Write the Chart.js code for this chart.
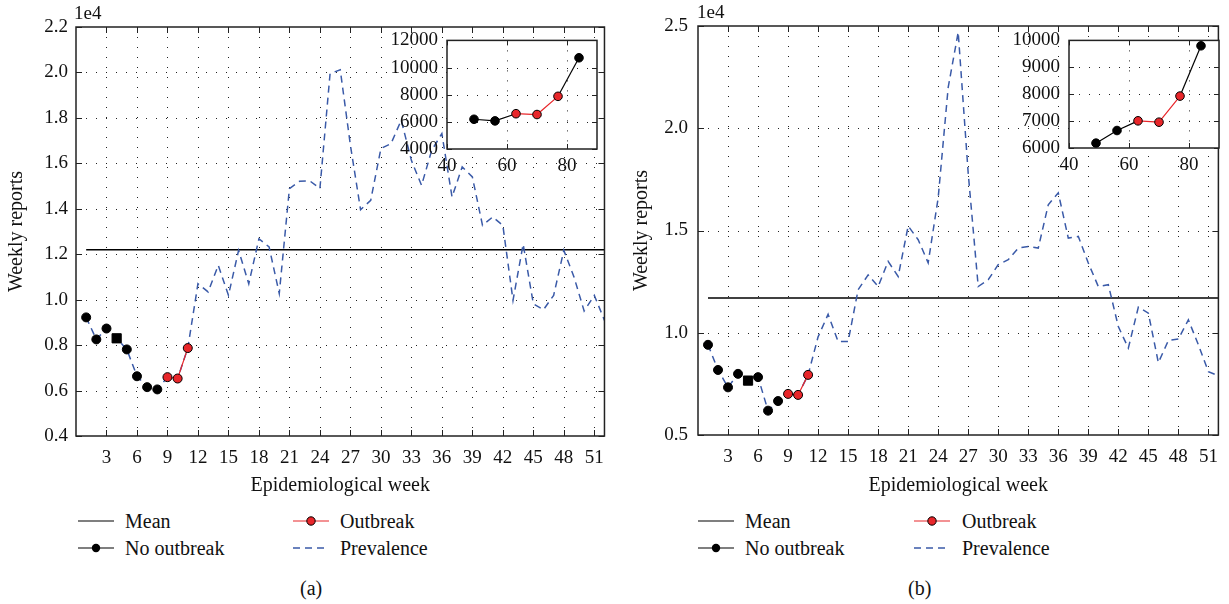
<!DOCTYPE html>
<html>
<head>
<meta charset="utf-8">
<script src="https://cdn.jsdelivr.net/npm/chart.js@4.4.1/dist/chart.umd.min.js"></script>
<style>
  body { margin: 0; background: #fff; }
  #page { position: relative; width: 1229px; height: 604px; overflow: hidden;
          font-family: "Liberation Serif", "DejaVu Serif", serif; color: #111; }
  canvas { position: absolute; }
  .txt { position: absolute; font-size: 20px; line-height: 20px; white-space: nowrap; }
  .key { position: absolute; width: 36px; height: 12px; }
</style>
</head>
<body>
<div id="page">
  <canvas id="mainA" width="615" height="500" style="left:0;top:0"></canvas>
  <canvas id="mainB" width="614" height="500" style="left:615px;top:0"></canvas>
  <canvas id="insetA" width="240" height="160" style="left:375px;top:20px"></canvas>
  <canvas id="insetB" width="234" height="160" style="left:995px;top:20px"></canvas>

  <div class="txt" style="left:74px;top:3px;font-size:19px">1e4</div>
  <div class="txt" style="left:697px;top:2px;font-size:19px">1e4</div>

  <!-- legend (a) -->
  <svg class="key" style="left:78px;top:515px"><line x1="0" y1="6" x2="36" y2="6" stroke="#000" stroke-width="1.2"/></svg>
  <div class="txt" style="left:125px;top:511px">Mean</div>
  <svg class="key" style="left:78px;top:542px"><line x1="0" y1="6" x2="36" y2="6" stroke="#000" stroke-width="1.2"/><circle cx="18" cy="6" r="4.2" fill="#000"/></svg>
  <div class="txt" style="left:125px;top:538px">No outbreak</div>
  <svg class="key" style="left:293px;top:515px"><line x1="0" y1="6" x2="36" y2="6" stroke="#e8262a" stroke-width="1.2"/><circle cx="18" cy="6" r="4.2" fill="#e8262a" stroke="#000" stroke-width="1"/></svg>
  <div class="txt" style="left:340px;top:511px">Outbreak</div>
  <svg class="key" style="left:293px;top:542px"><line x1="0" y1="6" x2="36" y2="6" stroke="#3a5aa8" stroke-width="1.4" stroke-dasharray="7,5"/></svg>
  <div class="txt" style="left:340px;top:538px">Prevalence</div>
  <div class="txt" style="left:300px;top:578px">(a)</div>

  <!-- legend (b) -->
  <svg class="key" style="left:698px;top:515px"><line x1="0" y1="6" x2="36" y2="6" stroke="#000" stroke-width="1.2"/></svg>
  <div class="txt" style="left:745px;top:511px">Mean</div>
  <svg class="key" style="left:698px;top:542px"><line x1="0" y1="6" x2="36" y2="6" stroke="#000" stroke-width="1.2"/><circle cx="18" cy="6" r="4.2" fill="#000"/></svg>
  <div class="txt" style="left:745px;top:538px">No outbreak</div>
  <svg class="key" style="left:914px;top:515px"><line x1="0" y1="6" x2="36" y2="6" stroke="#e8262a" stroke-width="1.2"/><circle cx="18" cy="6" r="4.2" fill="#e8262a" stroke="#000" stroke-width="1"/></svg>
  <div class="txt" style="left:962px;top:511px">Outbreak</div>
  <svg class="key" style="left:914px;top:542px"><line x1="0" y1="6" x2="36" y2="6" stroke="#3a5aa8" stroke-width="1.4" stroke-dasharray="7,5"/></svg>
  <div class="txt" style="left:962px;top:538px">Prevalence</div>
  <div class="txt" style="left:908px;top:578px">(b)</div>
</div>

<script>
/* weeks and tick labels */
let weeks = [1,2,3,4,5,6,7,8,9,10,11,12,13,14,15,16,17,18,19,20,21,22,23,24,25,26,
             27,28,29,30,31,32,33,34,35,36,37,38,39,40,41,42,43,44,45,46,47,48,49,50,51,52]
let weekTicks = [3,6,9,12,15,18,21,24,27,30,33,36,39,42,45,48,51]

/* weekly reports, panel (a) */
let prevalenceA = [9220, 8250, 8730, 8300, 7810, 6630, 6150, 6050, 6590, 6530, 7870, 10700, 10340,
                   11510, 10190, 12170, 10700, 12680, 12320, 10270, 14890, 15210, 15230, 14890, 19950, 20120,
                   16800, 13960, 14370, 16650, 16870, 17900, 16130, 15030, 16570, 17310, 14520, 15840, 15400,
                   13270, 13640, 13270, 9970, 12440, 9820, 9560, 10190, 12170, 11000, 9500, 10190, 9090]
let meanA = 12200

/* weekly reports, panel (b) */
let prevalenceB = [9410, 8180, 7330, 7990, 7660, 7830, 6190, 6660, 7010, 6960, 7940, 9800, 10900,
                   9570, 9570, 12100, 12830, 12260, 13490, 12750, 15220, 14550, 13420, 16600, 22000, 24700,
                   17800, 12260, 12590, 13330, 13570, 14140, 14220, 14140, 16260, 16840, 14630, 14710, 13410,
                   12260, 12350, 10300, 9250, 11250, 10960, 8540, 9620, 9690, 10630, 9410, 8100, 7890]
let meanB = 11700

let noOutbreakWeeks = [1,2,3,4,5,6,7,8]
let outbreakWeeks = [9,10,11]
let squareWeekA = 4
let squareWeekB = 5

/* insets (day of year) */
let insetDays = [49, 56, 63, 70, 77, 84]
let insetTicks = [40, 60, 80]
let insetA = [6190, 6070, 6600, 6540, 7880, 10720]
let insetB = [6180, 6650, 7010, 6960, 7930, 9800]
let insetOutbreak = [false, false, true, true, true, false]

let BLUE = '#3a5aa8'
let RED = '#e8262a'
let FONT = '"Liberation Serif", "DejaVu Serif", serif'

Chart.defaults.font.family = FONT
Chart.defaults.color = '#111'

// dotted grid, box around the plot area and inward tick marks (matplotlib look)
let framePlugin = {
    id: 'frame',
    beforeDraw(chart, args, opts) {
        if (opts.fill) {
            let a = chart.chartArea
            chart.ctx.save()
            chart.ctx.fillStyle = '#fff'
            chart.ctx.fillRect(a.left, a.top, a.width, a.height)
            chart.ctx.restore()
        }
    },
    beforeDatasetsDraw(chart) {
        let ctx = chart.ctx
        let a = chart.chartArea
        ctx.save()
        ctx.strokeStyle = '#222'
        ctx.lineWidth = 1
        ctx.setLineDash([1, 9])
        ctx.beginPath()
        chart.scales.x.ticks.forEach(t => {
            let px = Math.round(chart.scales.x.getPixelForValue(t.value)) + 0.5
            if (px <= a.left + 1 || px >= a.right - 1) return
            ctx.moveTo(px, a.top); ctx.lineTo(px, a.bottom)
        })
        chart.scales.y.ticks.forEach(t => {
            let py = Math.round(chart.scales.y.getPixelForValue(t.value)) + 0.5
            if (py <= a.top + 1 || py >= a.bottom - 1) return
            ctx.moveTo(a.left, py); ctx.lineTo(a.right, py)
        })
        ctx.stroke()
        ctx.restore()
    },
    afterDraw(chart, args, opts) {
        let ctx = chart.ctx
        let a = chart.chartArea
        let len = opts.tick || 6
        ctx.save()
        ctx.strokeStyle = '#222'
        ctx.lineWidth = 1
        ctx.beginPath()
        chart.scales.x.ticks.forEach(t => {
            let px = Math.round(chart.scales.x.getPixelForValue(t.value)) + 0.5
            ctx.moveTo(px, a.bottom); ctx.lineTo(px, a.bottom - len)
            ctx.moveTo(px, a.top); ctx.lineTo(px, a.top + len)
        })
        chart.scales.y.ticks.forEach(t => {
            let py = Math.round(chart.scales.y.getPixelForValue(t.value)) + 0.5
            ctx.moveTo(a.left, py); ctx.lineTo(a.left + len, py)
            ctx.moveTo(a.right, py); ctx.lineTo(a.right - len, py)
        })
        ctx.stroke()
        ctx.lineWidth = 1.5
        ctx.strokeRect(a.left, a.top, a.width, a.height)
        ctx.restore()
    }
}

function pick(values, list) {
    return list.map(w => ({ x: w, y: values[weeks.indexOf(w)] }))
}

function makeMain(canvasId, prevalence, mean, yMin, yMax, yStep, squareWeek, geo) {
    let ctx = document.querySelector(canvasId).getContext('2d')
    return new Chart(ctx, {
        type: 'line',
        data: {
            datasets: [
                {
                    label: 'No outbreak',
                    data: pick(prevalence, noOutbreakWeeks),
                    showLine: false,
                    pointStyle: noOutbreakWeeks.map(w => w == squareWeek ? 'rect' : 'circle'),
                    pointRadius: noOutbreakWeeks.map(w => w == squareWeek ? 6.5 : 4.5),
                    pointBackgroundColor: '#000',
                    pointBorderColor: '#000',
                    pointBorderWidth: 1,
                    order: 0
                },
                {
                    label: 'Outbreak',
                    data: pick(prevalence, outbreakWeeks),
                    borderColor: RED,
                    borderWidth: 1.2,
                    pointRadius: 4.5,
                    pointBackgroundColor: RED,
                    pointBorderColor: '#000',
                    pointBorderWidth: 1,
                    order: 1
                },
                {
                    label: 'Prevalence',
                    data: pick(prevalence, weeks),
                    borderColor: BLUE,
                    borderWidth: 1.5,
                    borderDash: [7, 5],
                    pointRadius: 0,
                    order: 2
                },
                {
                    label: 'Mean',
                    data: [{ x: weeks[0], y: mean }, { x: weeks[weeks.length - 1], y: mean }],
                    borderColor: '#000',
                    borderWidth: 1.5,
                    pointRadius: 0,
                    order: 3
                }
            ]
        },
        options: {
            responsive: false,
            animation: false,
            events: [],
            layout: { padding: { top: geo.top, right: geo.right, left: 0, bottom: 0 } },
            plugins: {
                legend: { display: false },
                tooltip: { enabled: false },
                frame: { tick: 6 }
            },
            scales: {
                x: {
                    type: 'linear',
                    min: 0,
                    max: 52,
                    afterBuildTicks: s => { s.ticks = weekTicks.map(v => ({ value: v })) },
                    afterFit: s => { s.height = geo.xh },
                    ticks: { autoSkip: false, maxRotation: 0, padding: 11, font: { size: 19 }, color: '#111',
                             callback: v => String(v) },
                    grid: { display: false, drawTicks: false },
                    border: { display: false },
                    title: { display: true, text: 'Epidemiological week', font: { size: 20 }, color: '#111',
                             padding: { top: 0, bottom: 2 } }
                },
                y: {
                    min: yMin,
                    max: yMax,
                    afterFit: s => { s.width = geo.yw },
                    ticks: { stepSize: yStep, padding: geo.ypad, font: { size: 19 }, color: '#111',
                             callback: v => (v / 1e4).toFixed(1) },
                    grid: { display: false, drawTicks: false },
                    border: { display: false },
                    title: { display: true, text: 'Weekly reports', font: { size: 20 }, color: '#111',
                             padding: { top: geo.tpad, bottom: 0 } }
                }
            }
        },
        plugins: [framePlugin]
    })
}

function makeInset(canvasId, values, yMin, yMax, yStep, geo) {
    let ctx = document.querySelector(canvasId).getContext('2d')
    return new Chart(ctx, {
        type: 'line',
        data: {
            datasets: [{
                label: 'Inset',
                data: insetDays.map((d, i) => ({ x: d, y: values[i] })),
                borderColor: '#000',
                borderWidth: 1.2,
                segment: {
                    borderColor: c => insetOutbreak[c.p0DataIndex] && insetOutbreak[c.p1DataIndex] ? RED : '#000'
                },
                pointRadius: 4.3,
                pointBackgroundColor: insetOutbreak.map(o => o ? RED : '#000'),
                pointBorderColor: '#000',
                pointBorderWidth: 1
            }]
        },
        options: {
            responsive: false,
            animation: false,
            events: [],
            layout: { padding: { top: geo.top, right: geo.right, left: 0, bottom: 0 } },
            plugins: {
                legend: { display: false },
                tooltip: { enabled: false },
                frame: { tick: 5, fill: true }
            },
            scales: {
                x: {
                    type: 'linear',
                    min: 40,
                    max: 90,
                    afterBuildTicks: s => { s.ticks = insetTicks.map(v => ({ value: v })) },
                    afterFit: s => { s.height = geo.xh },
                    ticks: { autoSkip: false, padding: 6, maxRotation: 0, font: { size: 19 }, color: '#111',
                             callback: v => String(v) },
                    grid: { display: false, drawTicks: false },
                    border: { display: false }
                },
                y: {
                    min: yMin,
                    max: yMax,
                    afterFit: s => { s.width = geo.yw },
                    ticks: { stepSize: yStep, padding: 9, font: { size: 19 }, color: '#111',
                             callback: v => String(v) },
                    grid: { display: false, drawTicks: false },
                    border: { display: false }
                }
            }
        },
        plugins: [framePlugin]
    })
}

makeMain('#mainA', prevalenceA, meanA, 4000, 22000, 2000, squareWeekA,
         { top: 27, right: 10, xh: 64, yw: 76, ypad: 8, tpad: 5 })
makeMain('#mainB', prevalenceB, meanB, 5000, 25000, 5000, squareWeekB,
         { top: 26, right: 5, xh: 65, yw: 83, ypad: 10, tpad: 15 })
makeInset('#insetA', insetA, 4000, 12000, 2000, { top: 18, right: 18, xh: 31, yw: 72 })
makeInset('#insetB', insetB, 6000, 10000, 1000, { top: 17, right: 10, xh: 32, yw: 74 })
</script>
</body>
</html>
